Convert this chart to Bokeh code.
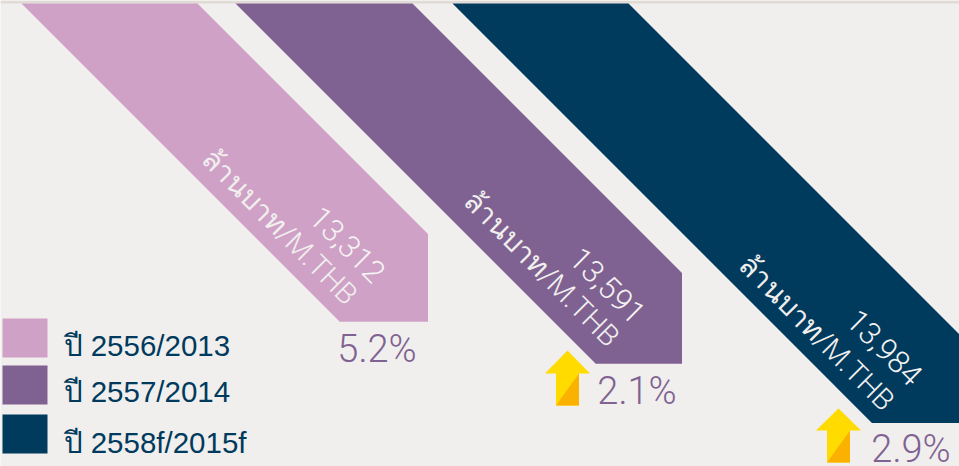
from bokeh.plotting import figure
from bokeh.models import Range1d
from bokeh.embed import file_html
from bokeh.resources import INLINE
from bokeh.core.properties import value

# ---- data ----
years = ["ปี 2556/2013", "ปี 2557/2014", "ปี 2558f/2015f"]
revenue = [13312, 13591, 13984]
growth = [5.2, 2.1, 2.9]
unit_label = "ล้านบาท/M.THB"

# ---- styles / layout ----
BG = "#f0efed"
BAND = "#e0dcd5"
colors = ["#cfa1c6", "#806292", "#003a5d"]
PCT = "#806292"
LEG_TXT = "#003a5d"
W, H = 959, 466
TOP = 3
ribbon_left = [21, 235, 452]
ribbon_width = [176, 177, 176]
ribbon_right = [427.5, 681.5, 959]
# value -> ribbon end on the page (scale of the pictorial bars)
V0, Y0, K = 13629, 369, 0.1506
value_xy = [(347, 244), (607, 285), (884, 347)]
unit_xy = [(279, 226), (541, 268), (816, 332)]
pct_xy = [(376.5, 348), (636.5, 390), (910.5, 448)]
arrows = [None, (567, 350, 373, 405), (838, 408, 430, 462)]
leg_y = [(318, 357), (365, 404), (414, 453)]
leg_text_y = [345, 391, 442]
LIGHT = "Roboto Light, Roboto"

p = figure(width=W, height=H, x_range=Range1d(0, W), y_range=Range1d(H, 0),
           x_axis_type=None, y_axis_type=None, toolbar_location=None,
           output_backend="svg", min_border=0,
           background_fill_color=BG, border_fill_color=BG, outline_line_color=None)
p.grid.visible = False

p.quad(left=0, right=W, top=0, bottom=TOP, fill_color=BAND, line_color=None)

xs, ys = [], []
for v, l, w, r in zip(revenue, ribbon_left, ribbon_width, ribbon_right):
    end = Y0 + K * (v - V0)
    tr = l + w
    xs.append([l, tr, r, r, l + (end - TOP)])
    ys.append([TOP, TOP, TOP + (r - tr), end, end])
p.patches(xs=xs, ys=ys, fill_color=colors, line_color=None)

# arrows
for a in arrows:
    if a is None:
        continue
    cx, tip, sh, bot = a
    p.patch(x=[cx, cx + 22.5, cx + 11.5, cx + 11.5, cx - 11.5, cx - 11.5, cx - 22.5],
            y=[tip, sh, sh, bot, bot, sh, sh], fill_color="#ffdb00", line_color=None)
    p.patch(x=[cx + 11.5, cx + 11.5, cx - 11.5], y=[sh, bot, bot],
            fill_color="#fbb100", line_color=None)

# ribbon labels
p.text(x=[c[0] for c in value_xy], y=[c[1] for c in value_xy],
       text=[f"{v:,}" for v in revenue], angle=-45, angle_units="deg",
       text_align="center", text_baseline="middle",
       text_font=value(LIGHT), text_font_size="31px", text_color="#f4f3f1")
p.text(x=[c[0] for c in unit_xy], y=[c[1] for c in unit_xy],
       text=[unit_label] * 3, angle=-45, angle_units="deg",
       text_align="center", text_baseline="middle",
       text_font=value(LIGHT), text_font_size="29px", text_color="#f0efed")

# growth
p.text(x=[c[0] for c in pct_xy], y=[c[1] for c in pct_xy],
       text=[f"{g:.1f}%" for g in growth],
       text_align="center", text_baseline="middle",
       text_font=value(LIGHT), text_font_size="38px", text_color=PCT)

# legend
p.quad(left=[2] * 3, right=[47] * 3, top=[a for a, _ in leg_y], bottom=[b for _, b in leg_y],
       fill_color=colors, line_color=None)
p.text(x=[63] * 3, y=leg_text_y, text=years, text_align="left", text_baseline="middle",
       text_font=value("Liberation Sans"), text_font_size="29.5px", text_color=LEG_TXT)

open("out.html", "w").write(file_html(p, INLINE))
